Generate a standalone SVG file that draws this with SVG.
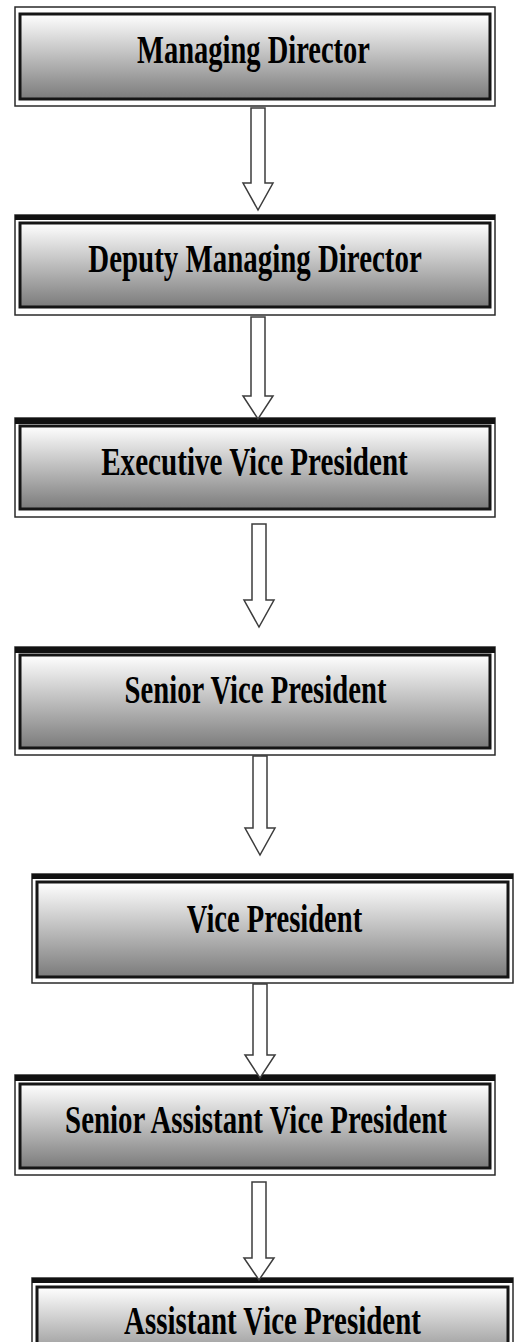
<svg xmlns="http://www.w3.org/2000/svg" width="517" height="1342" viewBox="0 0 517 1342">
<defs>
<linearGradient id="g" x1="0" y1="0" x2="0" y2="1">
<stop offset="0" stop-color="#ffffff"/>
<stop offset="1" stop-color="#7b7b7b"/>
</linearGradient>
</defs>
<style>
.outer{fill:#ffffff;stroke:#2a2a2a;stroke-width:1.5}
.inner{fill:url(#g);stroke:#151515;stroke-width:3}
.band{fill:#111111}
.lbl{font-family:"Liberation Serif","Times New Roman",serif;font-weight:bold;font-size:41px;fill:#000000;text-anchor:middle}
.arr{fill:#ffffff;stroke:#3c3c3c;stroke-width:1.5;stroke-linejoin:miter}
</style>
<rect width="517" height="1342" fill="#ffffff"/>
<g id="n1">
<rect class="outer" x="15" y="7" width="480" height="99"/>
<rect class="inner" x="20" y="14" width="470" height="85"/>
<text class="lbl" transform="translate(253.5 63) scale(0.695 1)">Managing Director</text>
</g>
<g id="n2">
<rect class="outer" x="15" y="215" width="480" height="100"/>
<rect class="band" x="15" y="215" width="480" height="5"/>
<rect class="inner" x="20" y="223" width="470" height="84"/>
<text class="lbl" transform="translate(255 272) scale(0.705 1)">Deputy Managing Director</text>
</g>
<g id="n3">
<rect class="outer" x="15" y="418" width="480" height="99"/>
<rect class="band" x="15" y="418" width="480" height="6"/>
<rect class="inner" x="20" y="426" width="470" height="83"/>
<text class="lbl" transform="translate(254.5 475) scale(0.71 1)">Executive Vice President</text>
</g>
<g id="n4">
<rect class="outer" x="15" y="647" width="480" height="108"/>
<rect class="band" x="15" y="647" width="480" height="6"/>
<rect class="inner" x="20" y="655" width="470" height="93"/>
<text class="lbl" transform="translate(255.5 703) scale(0.70 1)">Senior Vice President</text>
</g>
<g id="n5">
<rect class="outer" x="32" y="874" width="481" height="109"/>
<rect class="band" x="32" y="874" width="481" height="5"/>
<rect class="inner" x="37" y="882" width="471" height="95"/>
<text class="lbl" transform="translate(274.5 932) scale(0.697 1)">Vice President</text>
</g>
<g id="n6">
<rect class="outer" x="15" y="1075" width="480" height="100"/>
<rect class="band" x="15" y="1075" width="480" height="6"/>
<rect class="inner" x="20" y="1084" width="470" height="84"/>
<text class="lbl" transform="translate(256 1133) scale(0.705 1)">Senior Assistant Vice President</text>
</g>
<g id="n7">
<rect class="outer" x="32" y="1278" width="481" height="100"/>
<rect class="band" x="32" y="1278" width="481" height="5"/>
<rect class="inner" x="37" y="1287" width="471" height="85"/>
<text class="lbl" transform="translate(272.5 1334) scale(0.706 1)">Assistant Vice President</text>
</g>
<g id="connectors">
<polygon class="arr" points="251,108 265,108 265,183 273,183 258,210 243,183 251,183"/>
<polygon class="arr" points="251,317 265,317 265,396 273,396 258,419 243,396 251,396"/>
<polygon class="arr" points="252,524 266,524 266,600 274,600 259,627 244,600 252,600"/>
<polygon class="arr" points="253,756 267,756 267,828 275,828 260,855 245,828 253,828"/>
<polygon class="arr" points="253,984 267,984 267,1055 275,1055 260,1078 245,1055 253,1055"/>
<polygon class="arr" points="252,1182 266,1182 266,1258 274,1258 259,1280 244,1258 252,1258"/>
</g>
</svg>
